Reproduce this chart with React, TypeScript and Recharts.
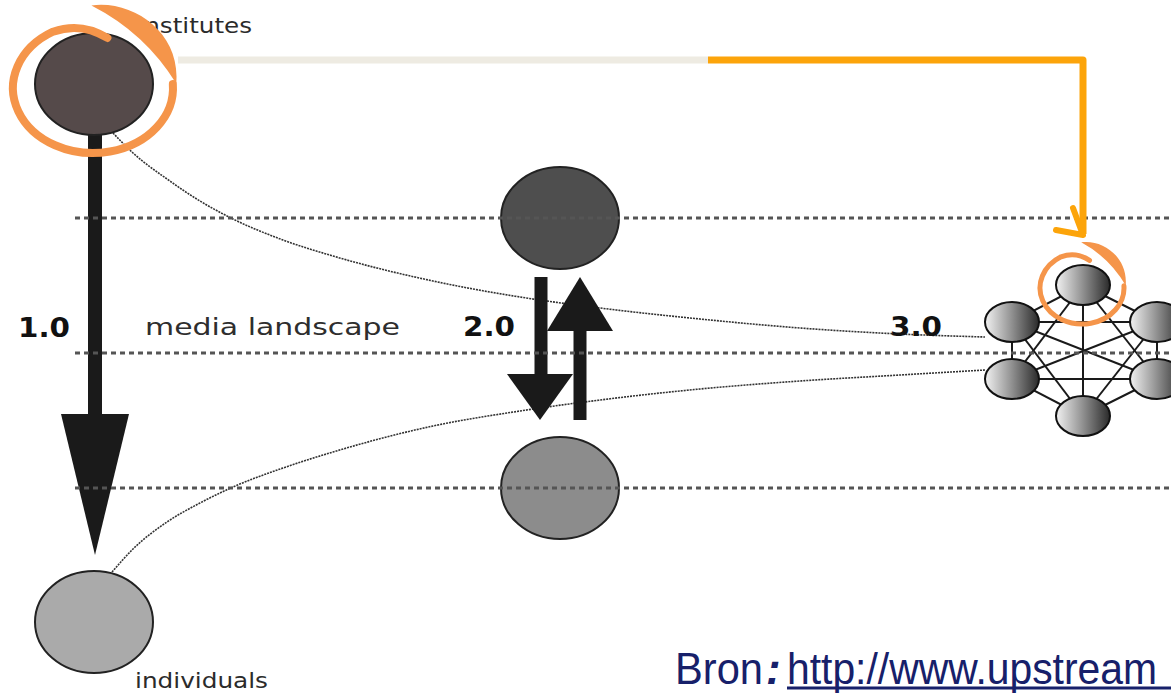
import { ComposedChart, Line, Scatter, XAxis, YAxis } from "recharts";

const W = 1171;
const H = 693;

// diagram space: x 0..1171 left to right, y 0..693 top to bottom
const lanes = [
  { x: 75, y: 218 },
  { x: 75, y: 353 },
  { x: 75, y: 488 },
];

const bigNodes = [
  { id: "institutes", x: 94, y: 84 },
  { id: "web2Top", x: 560, y: 218 },
  { id: "web2Bottom", x: 560, y: 488 },
  { id: "individuals", x: 94, y: 622 },
];

const peerNodes = [
  { id: "top", x: 1083, y: 285 },
  { id: "upperLeft", x: 1012, y: 322 },
  { id: "upperRight", x: 1157, y: 322 },
  { id: "lowerLeft", x: 1012, y: 379 },
  { id: "lowerRight", x: 1157, y: 379 },
  { id: "bottom", x: 1083, y: 416 },
];

const upperCurve = [
  { x: 113, y: 133 },
  { x: 133, y: 153 },
  { x: 167, y: 179 },
  { x: 200, y: 201 },
  { x: 233, y: 219 },
  { x: 283, y: 240 },
  { x: 333, y: 256 },
  { x: 433, y: 281 },
  { x: 520, y: 297 },
  { x: 600, y: 308 },
  { x: 700, y: 319 },
  { x: 800, y: 328 },
  { x: 900, y: 334 },
  { x: 985, y: 337 },
];

const lowerCurve = [
  { x: 112, y: 572 },
  { x: 133, y: 549 },
  { x: 167, y: 522 },
  { x: 200, y: 503 },
  { x: 233, y: 487 },
  { x: 283, y: 468 },
  { x: 333, y: 452 },
  { x: 433, y: 426 },
  { x: 520, y: 411 },
  { x: 600, y: 400 },
  { x: 700, y: 389 },
  { x: 800, y: 381 },
  { x: 900, y: 375 },
  { x: 985, y: 370 },
];

// arrow shafts run tail -> base of the head, heads point at tip
const arrowShafts = [
  { id: "web1", x: 95, tail: 135, base: 414 },
  { id: "web2Down", x: 541, tail: 277, base: 374 },
  { id: "web2Up", x: 580, tail: 420, base: 331 },
];
const arrowTips = [
  { id: "web1", x: 95, y: 555 },
  { id: "web2Down", x: 540, y: 420 },
  { id: "web2Up", x: 580, y: 277 },
];

const fadedPath = [
  { x: 178, y: 60 },
  { x: 708, y: 60 },
];
const orangePath = [
  { x: 708, y: 60 },
  { x: 1083, y: 60 },
  { x: 1083, y: 234 },
];
const orangeChevron = [
  { x: 1073, y: 208 },
  { x: 1083, y: 235 },
  { x: 1056, y: 230 },
];

const highlightRings = [
  { id: "institutes", x: 93, y: 88 },
  { id: "peer", x: 1082, y: 288 },
];

const labels = [
  { id: "institutes", x: 137, y: 33, text: "Institutes" },
  { id: "v1", x: 18, y: 337, text: "1.0" },
  { id: "landscape", x: 145, y: 335, text: "media landscape" },
  { id: "v2", x: 463, y: 336, text: "2.0" },
  { id: "v3", x: 890, y: 336, text: "3.0" },
  { id: "individuals", x: 135, y: 688, text: "individuals" },
];

const sourceNote = [{ x: 675, y: 684, label: "Bron", sep: ":", url: "http://www.upstream" }];

const peerEdges: { x: number; y: number }[][] = [];
peerNodes.forEach((a, i) =>
  peerNodes.slice(i + 1).forEach((b) => peerEdges.push([{ x: a.x, y: a.y }, { x: b.x, y: b.y }])),
);

const BIG_FILL: Record<string, string> = {
  institutes: "#554a4a",
  web2Top: "#4e4e4e",
  web2Bottom: "#8c8c8c",
  individuals: "#aaaaaa",
};

const HEAD: Record<string, { w: number; len: number; up?: boolean }> = {
  web1: { w: 68, len: 141 },
  web2Down: { w: 66, len: 46 },
  web2Up: { w: 66, len: 54, up: true },
};

const RING: Record<string, { rx: number; ry: number; sw: number }> = {
  institutes: { rx: 80, ry: 65, sw: 8 },
  peer: { rx: 42, ry: 36, sw: 5 },
};

const LABEL: Record<string, { size: number; bold?: boolean; width: number; color: string }> = {
  institutes: { size: 21, width: 115, color: "#2b2b2b" },
  v1: { size: 27, bold: true, width: 52, color: "#111" },
  landscape: { size: 23, width: 255, color: "#2e2e2e" },
  v2: { size: 27, bold: true, width: 52, color: "#111" },
  v3: { size: 27, bold: true, width: 52, color: "#111" },
  individuals: { size: 21, width: 133, color: "#2b2b2b" },
};

const ORANGE = "#fca40a";
const RING_ORANGE = "#f5954a";
const NAVY = "#17206a";
const CURVE = { stroke: "#333", strokeWidth: 1.6, strokeDasharray: "2 1" };

// scatter series that only draw their connecting line
const NoPoint = () => <g />;

function BigNode(props: any) {
  const { cx, cy, payload } = props;
  return (
    <ellipse cx={cx} cy={cy} rx={59} ry={51} fill={BIG_FILL[payload.id]} stroke="#222" strokeWidth={2} />
  );
}

function PeerNode(props: any) {
  const { cx, cy } = props;
  return <ellipse cx={cx} cy={cy} rx={27} ry={20} fill="url(#peerFill)" stroke="#111" strokeWidth={2} />;
}

// dotted lane running from its start to the right edge of the plot
function Lane(props: any) {
  const { cx, cy } = props;
  return <line x1={cx} x2={W} y1={cy} y2={cy} stroke="#555" strokeWidth={3} strokeDasharray="5 4" />;
}

function ArrowHead(props: any) {
  const { cx, cy, payload } = props;
  const h = HEAD[payload.id];
  const by = h.up ? cy + h.len : cy - h.len;
  return <polygon points={`${cx - h.w / 2},${by} ${cx + h.w / 2},${by} ${cx},${cy}`} fill="#1a1a1a" />;
}

function HighlightRing(props: any) {
  const { cx, cy, payload } = props;
  const { rx, ry, sw } = RING[payload.id];
  const p = (fx: number, fy: number) => `${cx + fx * rx} ${cy + fy * ry}`;
  const loop = `M ${p(0.18, -0.77)} Q ${p(-0.15, -1.02)} ${p(-0.5, -0.866)} A ${rx} ${ry} 0 1 0 ${p(0.998, -0.06)}`;
  const tail = `M ${p(-0.02, -1.27)} C ${p(0.5, -1.36)} ${p(1.1, -0.85)} ${p(1.04, -0.07)} Q ${p(0.65, -0.85)} ${p(-0.02, -1.27)} Z`;
  return (
    <g>
      <path d={loop} fill="none" stroke={RING_ORANGE} strokeWidth={sw} strokeLinecap="round" />
      <path d={tail} fill={RING_ORANGE} />
    </g>
  );
}

function TextMark(props: any) {
  const { cx, cy, payload } = props;
  const s = LABEL[payload.id];
  return (
    <text
      x={cx}
      y={cy}
      fontFamily="'DejaVu Sans', Verdana, sans-serif"
      fontSize={s.size}
      fontWeight={s.bold ? 700 : 400}
      fill={s.color}
      textLength={s.width}
      lengthAdjust="spacingAndGlyphs"
    >
      {payload.text}
    </text>
  );
}

function SourceMark(props: any) {
  const { cx, cy, payload } = props;
  return (
    <g fontFamily="'Liberation Sans', Arial, sans-serif" fontSize={44} fill={NAVY}>
      <text x={cx} y={cy} textLength={88} lengthAdjust="spacingAndGlyphs">
        {payload.label}
      </text>
      <text x={cx + 91} y={cy} fontStyle="italic" fontWeight={700}>
        {payload.sep}
      </text>
      <text x={cx + 112} y={cy} textLength={370} lengthAdjust="spacingAndGlyphs">
        {payload.url}
      </text>
      <line x1={cx + 112} x2={W} y1={cy + 4} y2={cy + 4} stroke={NAVY} strokeWidth={3} />
    </g>
  );
}

export default function App() {
  return (
    <div style={{ position: "absolute", left: 0, top: 0, width: W, height: H, background: "#fff" }}>
      <ComposedChart width={W} height={H} margin={{ top: 0, right: 0, bottom: 0, left: 0 }}>
        <defs>
          <linearGradient id="peerFill" x1="0" y1="0" x2="1" y2="0">
            <stop offset="0" stopColor="#f2f2f2" />
            <stop offset="0.45" stopColor="#9a9a9a" />
            <stop offset="1" stopColor="#2a2a2a" />
          </linearGradient>
        </defs>
        <XAxis type="number" dataKey="x" domain={[0, W]} hide allowDataOverflow />
        <YAxis type="number" dataKey="y" domain={[0, H]} reversed hide allowDataOverflow />

        <Line data={upperCurve} dataKey="y" type="monotone" {...CURVE} dot={false} isAnimationActive={false} />
        <Line data={lowerCurve} dataKey="y" type="monotone" {...CURVE} dot={false} isAnimationActive={false} />

        {peerEdges.map((edge, i) => (
          <Line
            key={`edge-${i}`}
            data={edge}
            dataKey="y"
            type="linear"
            stroke="#1a1a1a"
            strokeWidth={2}
            dot={false}
            isAnimationActive={false}
          />
        ))}

        {arrowShafts.map((a) => (
          <Line
            key={`shaft-${a.id}`}
            data={[
              { x: a.x, y: a.tail },
              { x: a.x, y: a.base },
            ]}
            dataKey="y"
            type="linear"
            stroke="#1a1a1a"
            strokeWidth={a.id === "web1" ? 14 : 13}
            dot={false}
            isAnimationActive={false}
          />
        ))}

        <Scatter data={bigNodes} dataKey="y" shape={BigNode} isAnimationActive={false} />
        <Scatter data={peerNodes} dataKey="y" shape={PeerNode} isAnimationActive={false} />
        <Scatter data={arrowTips} dataKey="y" shape={ArrowHead} isAnimationActive={false} />
        <Scatter data={lanes} dataKey="y" shape={Lane} isAnimationActive={false} />

        <Scatter
          data={fadedPath}
          dataKey="y"
          shape={NoPoint}
          line={{ stroke: "#eeebe2", strokeWidth: 7 }}
          lineType="joint"
          isAnimationActive={false}
        />
        <Scatter
          data={orangePath}
          dataKey="y"
          shape={NoPoint}
          line={{ stroke: ORANGE, strokeWidth: 7, strokeLinejoin: "round" }}
          lineType="joint"
          isAnimationActive={false}
        />
        <Scatter
          data={orangeChevron}
          dataKey="y"
          shape={NoPoint}
          line={{ stroke: ORANGE, strokeWidth: 6, strokeLinecap: "round", strokeLinejoin: "round" }}
          lineType="joint"
          isAnimationActive={false}
        />

        <Scatter data={labels} dataKey="y" shape={TextMark} isAnimationActive={false} />
        <Scatter data={highlightRings} dataKey="y" shape={HighlightRing} isAnimationActive={false} />
        <Scatter data={sourceNote} dataKey="y" shape={SourceMark} isAnimationActive={false} />
      </ComposedChart>
    </div>
  );
}
